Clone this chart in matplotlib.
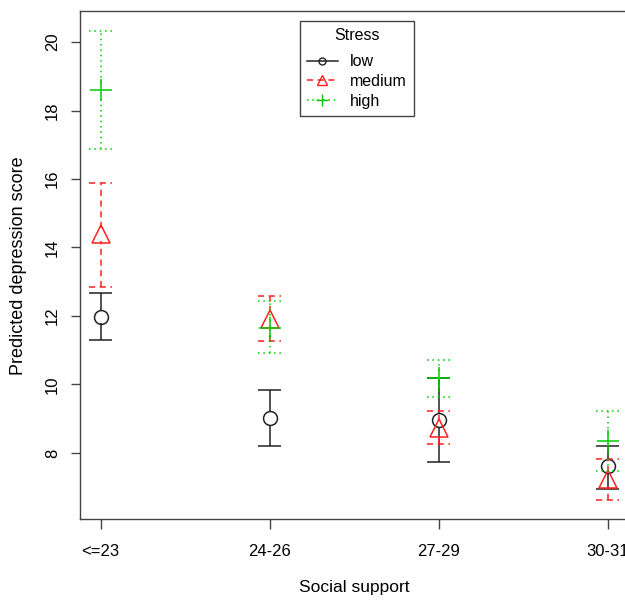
import numpy as np
import matplotlib
matplotlib.use("Agg")
import matplotlib.pyplot as plt
from matplotlib.lines import Line2D

plt.rcParams['font.family'] = ['Liberation Sans', 'DejaVu Sans']

# Social support groups and predicted depression score (point, lower, upper)
categories = ["<=23", "24-26", "27-29", "30-31"]

low_mean = [11.98, 9.01, 8.96, 7.62]
low_lower = [11.29, 8.19, 7.73, 6.95]
low_upper = [12.66, 9.84, 10.18, 8.21]

medium_mean = [14.38, 11.92, 8.74, 7.24]
medium_lower = [12.84, 11.28, 8.26, 6.63]
medium_upper = [15.88, 12.59, 9.22, 7.82]

high_mean = [18.60, 11.66, 10.19, 8.36]
high_lower = [16.88, 10.93, 9.64, 7.48]
high_upper = [20.32, 12.45, 10.72, 9.23]

series = [
    ("low", low_mean, low_lower, low_upper, "#222222", "-", "o", 10),
    ("medium", medium_mean, medium_lower, medium_upper, "#ff2020", (0, (4, 3)), "^", 13),
    ("high", high_mean, high_lower, high_upper, "#00cc00", (0, (1, 2.5)), "+", 16),
]

fig = plt.figure(figsize=(6.25, 6.0), dpi=100)
ax = fig.add_axes([0.1285, 0.1345, 0.8763, 0.8467])

x = np.arange(1, len(categories) + 1)
CAP = 0.068   # half width of the caps (data units)
GAP = 0.2     # gap around the point marker
LW = 1.1

handles = []
for name, mean, lo, hi, col, ls, mk, ms in series:
    mean = np.array(mean)
    lo = np.array(lo)
    hi = np.array(hi)
    ax.vlines(x, lo, mean - GAP, colors=col, linestyles=ls, lw=LW)
    ax.vlines(x, mean + GAP, hi, colors=col, linestyles=ls, lw=LW)
    ax.hlines(lo, x - CAP, x + CAP, colors=col, linestyles=ls, lw=LW)
    ax.hlines(hi, x - CAP, x + CAP, colors=col, linestyles=ls, lw=LW)
    ax.plot(x, mean, linestyle="none", marker=mk, markersize=ms,
            markerfacecolor="none", markeredgecolor=col, markeredgewidth=LW)
    handles.append(Line2D([0], [0], color=col, linestyle=ls, lw=LW, marker=mk,
                          markersize=ms * 0.5, markerfacecolor="none",
                          markeredgecolor=col))

ax.set_xlim(0.88, 4.12)
ax.set_ylim(6.06, 20.9)
ax.set_xticks(x)
ax.set_xticklabels(categories, fontsize=12)
ax.set_yticks([8, 10, 12, 14, 16, 18, 20])
ax.tick_params(axis="y", labelsize=12, length=6.5, width=1.0, color="#444444",
               pad=8, labelrotation=90)
ax.tick_params(axis="x", length=7, width=1.0, color="#444444", pad=11)
for lab in ax.get_yticklabels():
    lab.set_verticalalignment("center")
for s in ax.spines.values():
    s.set_color("#444444")
    s.set_linewidth(1.0)

ax.set_xlabel("Social support", fontsize=12.5)
ax.set_ylabel("Predicted depression score", fontsize=13)
ax.xaxis.set_label_coords(0.5, -0.135)
ax.yaxis.set_label_coords(-0.113, 0.5)
ax.xaxis.label.set_verticalalignment("center")
ax.yaxis.label.set_verticalalignment("center")

leg = ax.legend(handles, ["low", "medium", "high"], title="Stress",
                loc="upper left", bbox_to_anchor=(0.48, 0.965),
                bbox_transform=fig.transFigure, borderaxespad=0,
                fancybox=False, edgecolor="#444444", framealpha=1,
                fontsize=11.5, title_fontsize=11.5, handlelength=1.9,
                handletextpad=0.8, labelspacing=0.3, borderpad=0.45)
leg.get_frame().set_linewidth(1.0)
leg._legend_box.sep = 8

fig.savefig("out.png", dpi=100)
